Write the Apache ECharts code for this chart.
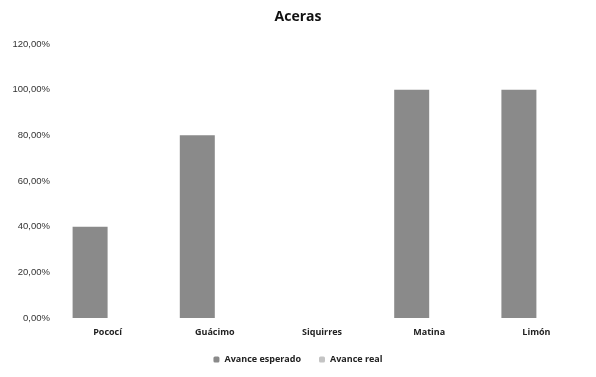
<!DOCTYPE html>
<html><head><meta charset="utf-8">
<script src="https://cdn.jsdelivr.net/npm/echarts@6/dist/echarts.min.js"></script>
<style>html,body{margin:0;padding:0;background:#fff}#c{width:596px;height:377px}</style>
</head><body><div id="c"></div>
<script>
const categories = ['Pococí', 'Guácimo', 'Siquirres', 'Matina', 'Limón'];
const avanceEsperado = [40, 80, 0, 100, 100];
const avanceReal = [0, 0, 0, 0, 0];
const chart = echarts.init(document.getElementById('c'));
chart.setOption({
  backgroundColor: '#fff',
  animation: false,
  title: { text: 'Aceras', left: 'center', top: 5,
    textStyle: { fontFamily: 'Open Sans', fontWeight: 'bold', fontSize: 14, color: '#111' } },
  legend: { bottom: 8, left: 'center', itemWidth: 6, itemHeight: 6, itemGap: 18,
    textStyle: { fontFamily: 'Open Sans', fontWeight: 'bold', fontSize: 9, color: '#222' },
    data: ['Avance esperado', 'Avance real'] },
  grid: { left: 54, right: 6, top: 44, bottom: 59 },
  xAxis: { type: 'category', data: categories,
    axisLine: { show: false }, axisTick: { show: false },
    axisLabel: { fontFamily: 'Open Sans', fontWeight: 'bold', fontSize: 9, color: '#222', margin: 10 } },
  yAxis: { type: 'value', min: 0, max: 120, interval: 20,
    splitLine: { show: false }, axisLine: { show: false },
    axisLabel: { fontFamily: 'Liberation Sans', fontSize: 9.5, color: '#333', margin: 4,
      formatter: v => v.toFixed(2).replace('.', ',') + '%' } },
  series: [
    { name: 'Avance esperado', type: 'bar', data: avanceEsperado, barWidth: 35, barGap: '0%',
      itemStyle: { color: '#8a8a8a' } },
    { name: 'Avance real', type: 'bar', data: avanceReal, barWidth: 35,
      itemStyle: { color: '#c4c4c4' } }
  ]
});
</script></body></html>
